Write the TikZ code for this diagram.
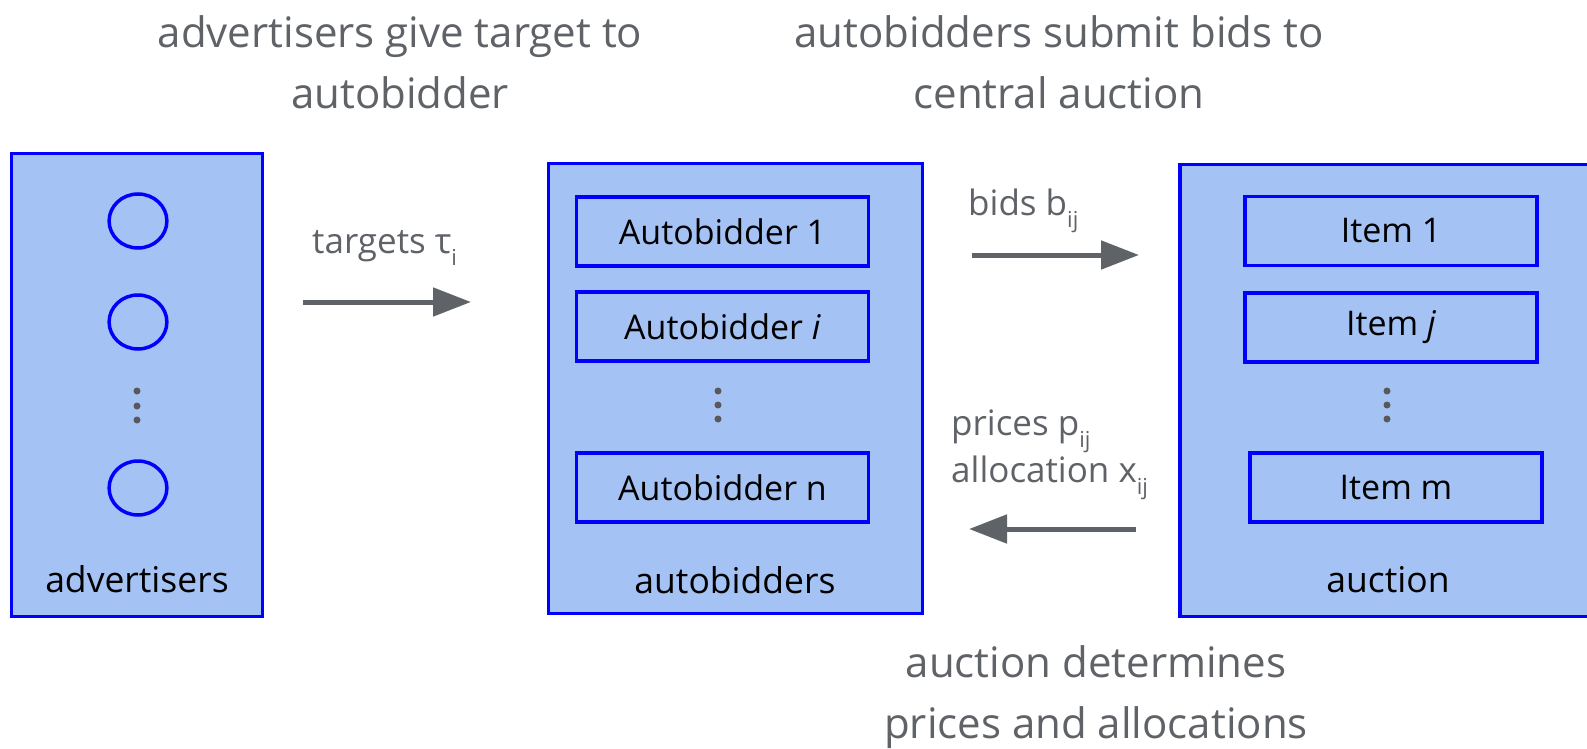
\documentclass[tikz,border=0pt]{standalone}
\usepackage{fontspec}
\setmainfont{Open Sans}
\usetikzlibrary{arrows.meta}
\definecolor{boxfill}{HTML}{A4C2F4}
\definecolor{boxline}{HTML}{0000FF}
\definecolor{arrowgray}{HTML}{5F6368}
\definecolor{textgray}{HTML}{5F6368}
\definecolor{dotgray}{HTML}{595959}
\newcommand\lowsub[1]{\raisebox{-12pt}{\fontsize{22}{22}\selectfont #1}}
\begin{document}
\begin{tikzpicture}[x=1pt,y=-1pt,
  outerbox/.style={draw=boxline, fill=boxfill, line width=3.5pt, inner sep=0pt},
  innerbox/.style={draw=boxline, line width=3.5pt, minimum width=292pt, minimum height=69pt, inner sep=0pt, font=\fontsize{34}{34}\selectfont},
  boxlabel/.style={font=\fontsize{35.5}{35.5}\selectfont, text=black},
  toptext/.style={font=\fontsize{42}{61}\selectfont, text=textgray, align=center},
  arrowlabel/.style={font=\fontsize{35}{35}\selectfont, text=textgray, anchor=base west, inner sep=0pt},
  flow/.style={draw=arrowgray, line width=5pt, -{Triangle[length=38pt,width=28pt]}},
  dot/.style={fill=dotgray, circle, inner sep=0pt, minimum size=7pt},
  advcircle/.style={draw=boxline, line width=3.5pt, circle, minimum size=54pt, inner sep=0pt, xscale=1.07}
]
\useasboundingbox (0,0) rectangle (1587,749);
\fill[white] (0,0) rectangle (1587,749);
\begin{scope}
\clip (0,0) rectangle (1587,749);
% big boxes
\node[outerbox, minimum width=251pt, minimum height=463pt] (advbox) at (137,385) {};
\node[outerbox, minimum width=374pt, minimum height=450pt] (autobox) at (735.5,388.5) {};
\node[outerbox, minimum width=422pt, minimum height=452pt] (aucbox) at (1391,390.5) {};
\end{scope}
% advertisers
\node[advcircle] (c1) at (138,221) {};
\node[advcircle] (c2) at (138,322) {};
\node[advcircle] (c3) at (138,488) {};
\node[dot] (ad1) at (137,391) {};
\node[dot] (ad2) at (137,406) {};
\node[dot] (ad3) at (137,420) {};
\node[boxlabel] (advlabel) at (137,579) {advertisers};
% autobidders
\node[innerbox] (ab1) at (722.5,231.5) {Autobidder 1};
\node[innerbox] (abi) at (722.5,326.5) {Autobidder \textit{i}};
\node[innerbox] (abn) at (722.5,487.5) {Autobidder n};
\node[dot] (bd1) at (718,391) {};
\node[dot] (bd2) at (718,405) {};
\node[dot] (bd3) at (718,419) {};
\node[boxlabel] (autolabel) at (735,580) {autobidders};
% auction
\node[innerbox] (it1) at (1391,231) {Item 1};
\node[innerbox] (itj) at (1391,327.5) {Item \textit{j}};
\node[innerbox] (itm) at (1396,487.5) {Item m};
\node[dot] (cd1) at (1387,391) {};
\node[dot] (cd2) at (1387,405) {};
\node[dot] (cd3) at (1387,419) {};
\node[boxlabel] (auclabel) at (1388,580) {auction};
% arrows
\coordinate (t0) at (303,302);
\coordinate (t1) at (471,302);
\draw[flow] (t0) -- (t1);
\node[arrowlabel] (tl) at (312,253) {targets τ\lowsub{i}};
\coordinate (b0) at (972,255);
\coordinate (b1) at (1139,255);
\draw[flow] (b0) -- (b1);
\node[arrowlabel] (bl) at (968,215) {bids b\lowsub{ij}};
\coordinate (p0) at (1136,529);
\coordinate (p1) at (969,529);
\draw[flow] (p0) -- (p1);
\node[arrowlabel] (pl) at (951,435) {prices p\lowsub{ij}};
\node[arrowlabel] (al) at (951,482) {allocation x\lowsub{ij}};
% captions
\node[toptext] (cap1) at (400,62) {advertisers give target to\\autobidder};
\node[toptext] (cap2) at (1059,62) {autobidders submit bids to\\central auction};
\node[toptext] (cap3) at (1096,697) {auction determines\\prices and allocations};
\end{tikzpicture}
\end{document}
